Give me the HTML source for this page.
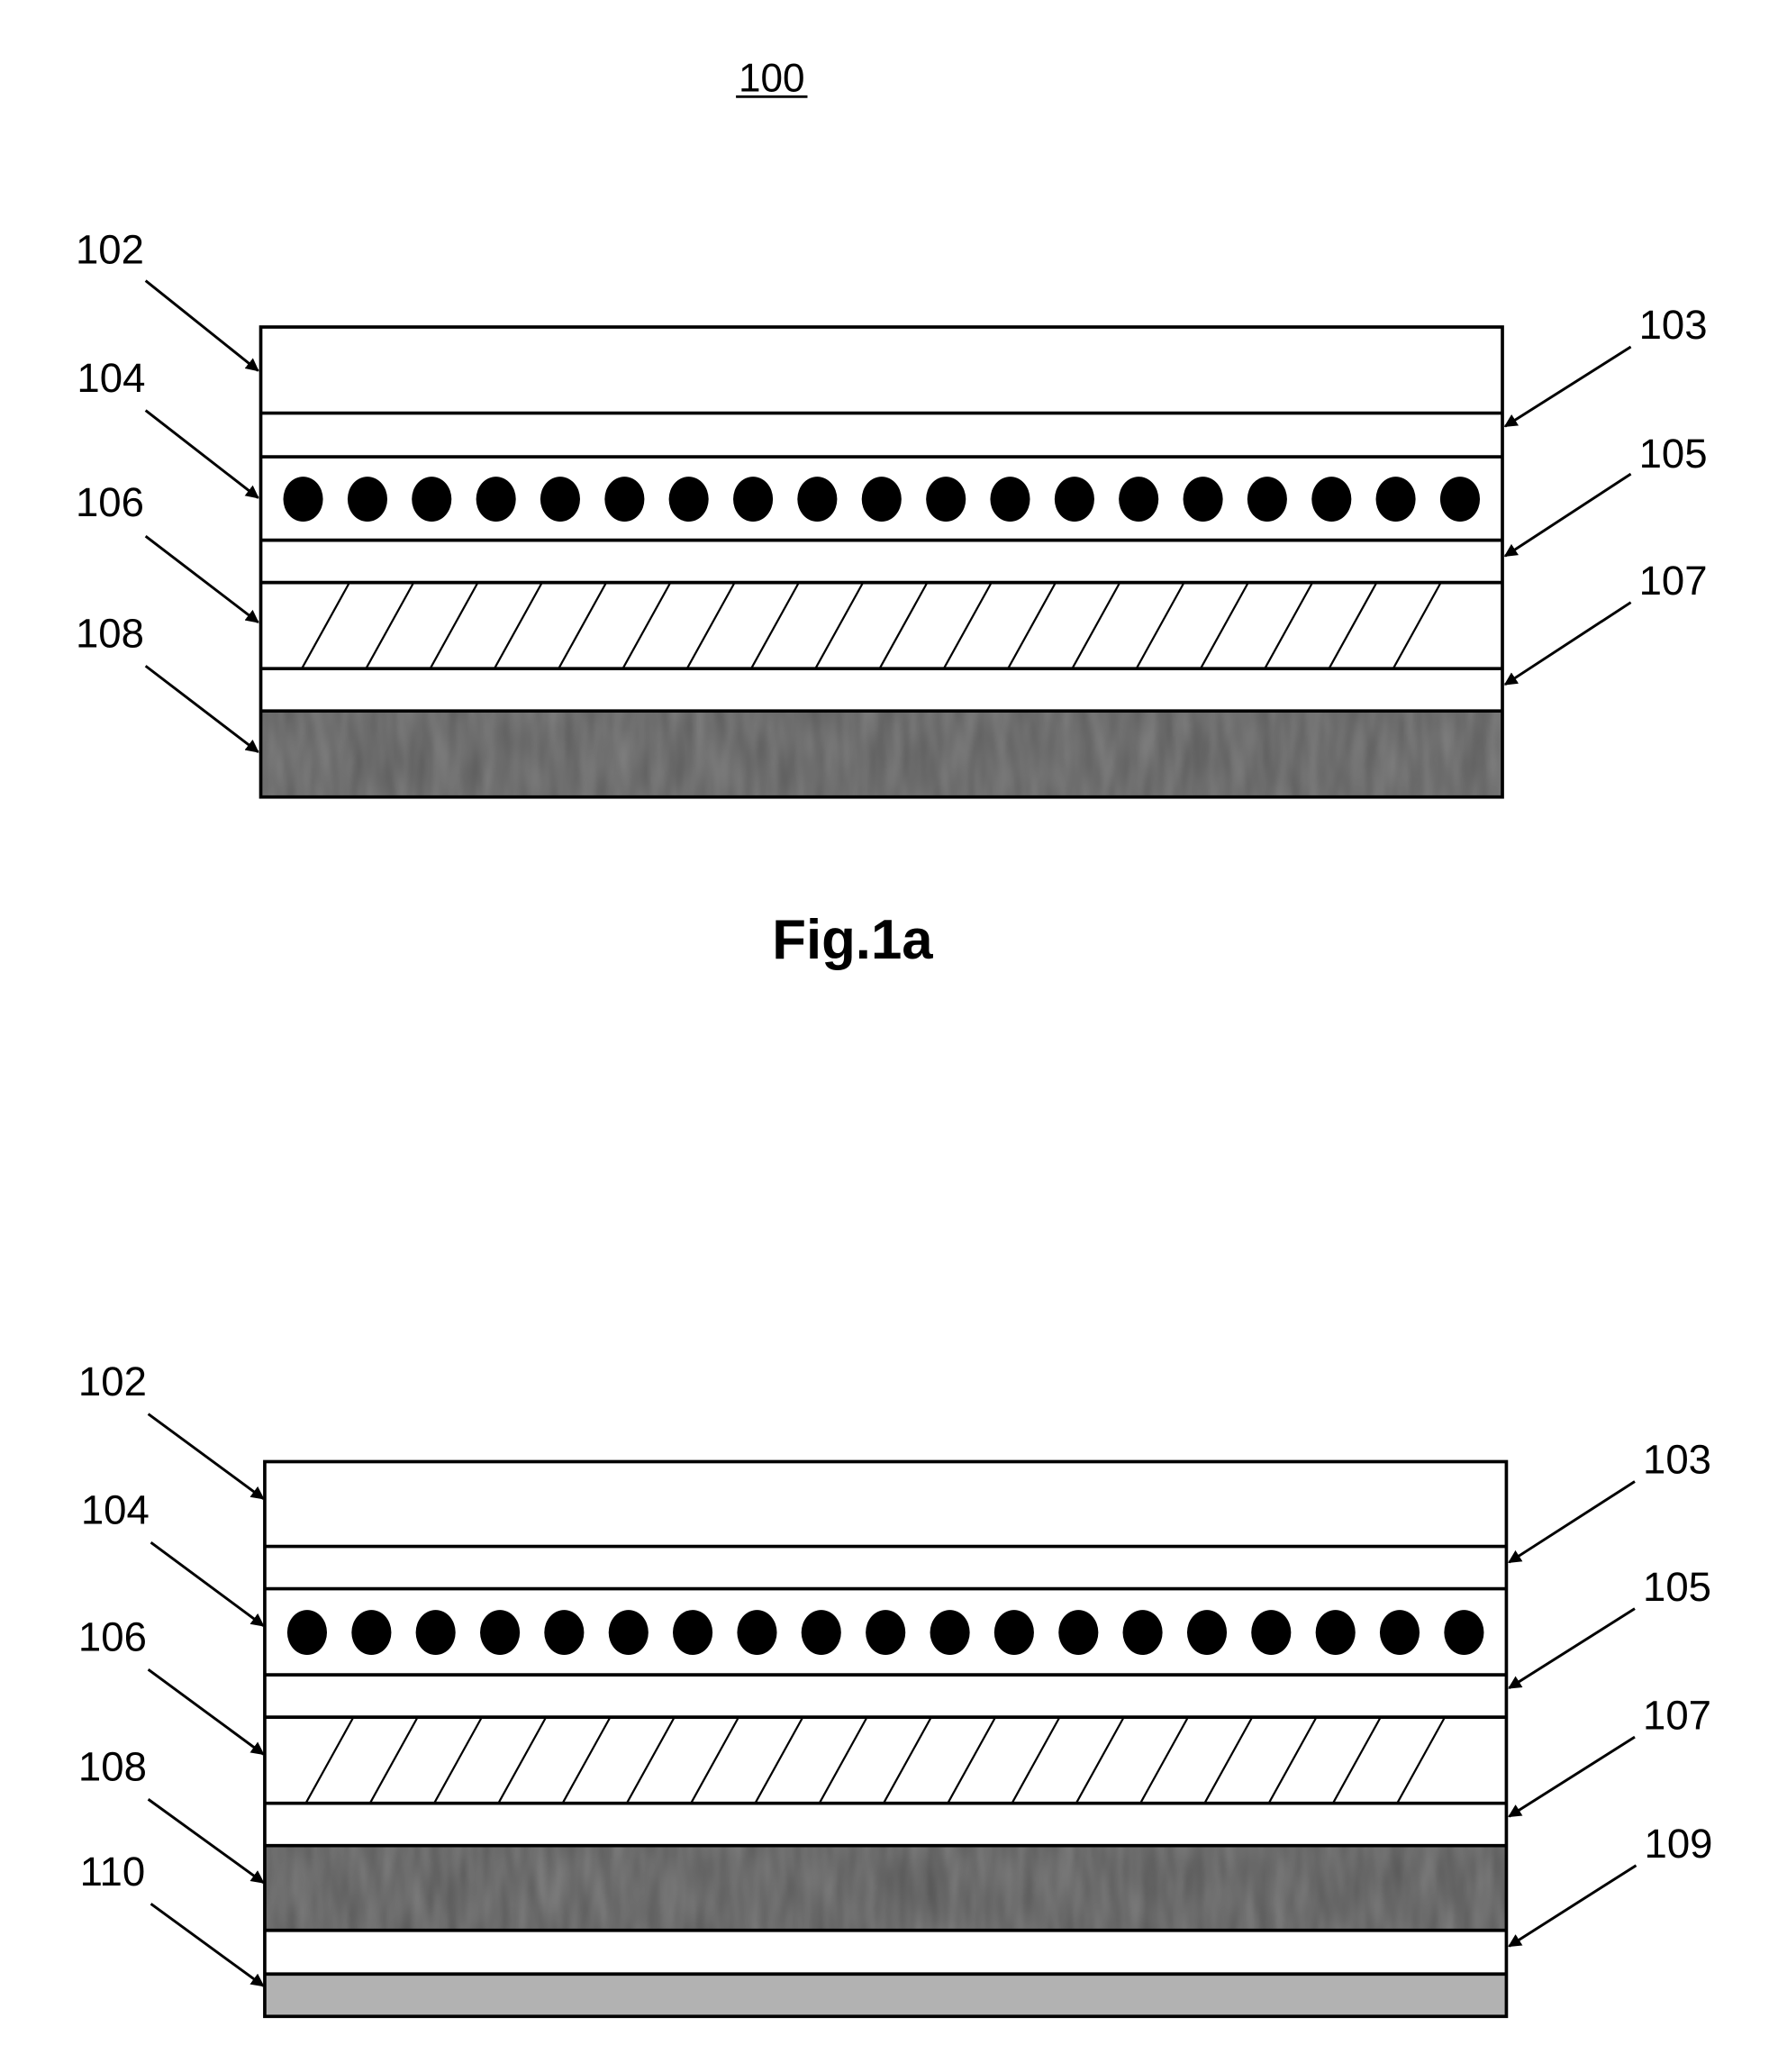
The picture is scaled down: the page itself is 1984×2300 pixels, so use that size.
<!DOCTYPE html>
<html><head><meta charset="utf-8"><style>html,body{margin:0;padding:0;background:#fff}svg{display:block}</style></head>
<body>
<svg width="1984" height="2300" viewBox="0 0 1350 1565" preserveAspectRatio="none" xmlns="http://www.w3.org/2000/svg">
<defs>
<marker id="a" viewBox="0 0 10 10" refX="9" refY="5" markerWidth="5" markerHeight="5" orient="auto"><path d="M0,0 L10,5 L0,10 z" fill="#000"/></marker>
<filter id="n1" x="0" y="0" width="100%" height="100%"><feTurbulence type="fractalNoise" baseFrequency="0.08 0.02" numOctaves="2" seed="3"/><feColorMatrix type="matrix" values="0 0 0 0 0.3  0 0 0 0 0.3  0 0 0 0 0.3  0 0 0 -1.2 1.1"/></filter>
</defs>
<g font-family="Liberation Sans, Arial, sans-serif" fill="#000">
<text x="583" y="69" font-size="30" text-anchor="middle">100</text>
<line x1="556" y1="73" x2="610" y2="73" stroke="#000" stroke-width="2"/>
<text x="644" y="724" font-size="42" font-weight="bold" text-anchor="middle">Fig.1a</text>
</g>

<!-- Fig 1a -->
<g stroke="#000" stroke-width="2.5" fill="none">
<rect x="197" y="537" width="938" height="65" fill="#5e5e5e" stroke="none"/>
<rect x="197" y="537" width="938" height="65" fill="#999" filter="url(#n1)" stroke="none" opacity="0.6"/>
<rect x="197" y="247" width="938" height="355"/>
<line x1="197" y1="312" x2="1135" y2="312"/>
<line x1="197" y1="345" x2="1135" y2="345"/>
<line x1="197" y1="408" x2="1135" y2="408"/>
<line x1="197" y1="440" x2="1135" y2="440"/>
<line x1="197" y1="505" x2="1135" y2="505"/>
<line x1="197" y1="537" x2="1135" y2="537"/>
</g>
<g id="dots1" fill="#000">
<ellipse cx="229" cy="377" rx="15" ry="17"/><ellipse cx="277.6" cy="377" rx="15" ry="17"/><ellipse cx="326.1" cy="377" rx="15" ry="17"/><ellipse cx="374.7" cy="377" rx="15" ry="17"/><ellipse cx="423.2" cy="377" rx="15" ry="17"/><ellipse cx="471.8" cy="377" rx="15" ry="17"/><ellipse cx="520.3" cy="377" rx="15" ry="17"/><ellipse cx="568.9" cy="377" rx="15" ry="17"/><ellipse cx="617.4" cy="377" rx="15" ry="17"/><ellipse cx="666" cy="377" rx="15" ry="17"/><ellipse cx="714.6" cy="377" rx="15" ry="17"/><ellipse cx="763.1" cy="377" rx="15" ry="17"/><ellipse cx="811.7" cy="377" rx="15" ry="17"/><ellipse cx="860.2" cy="377" rx="15" ry="17"/><ellipse cx="908.8" cy="377" rx="15" ry="17"/><ellipse cx="957.3" cy="377" rx="15" ry="17"/><ellipse cx="1005.9" cy="377" rx="15" ry="17"/><ellipse cx="1054.4" cy="377" rx="15" ry="17"/><ellipse cx="1103" cy="377" rx="15" ry="17"/>
</g>
<g id="hatch1" stroke="#000" stroke-width="1.5">
<line x1="228" y1="505" x2="264" y2="440"/><line x1="276.5" y1="505" x2="312.5" y2="440"/><line x1="325" y1="505" x2="361" y2="440"/><line x1="373.5" y1="505" x2="409.5" y2="440"/><line x1="422" y1="505" x2="458" y2="440"/><line x1="470.5" y1="505" x2="506.5" y2="440"/><line x1="519" y1="505" x2="555" y2="440"/><line x1="567.5" y1="505" x2="603.5" y2="440"/><line x1="616" y1="505" x2="652" y2="440"/><line x1="664.5" y1="505" x2="700.5" y2="440"/><line x1="713" y1="505" x2="749" y2="440"/><line x1="761.5" y1="505" x2="797.5" y2="440"/><line x1="810" y1="505" x2="846" y2="440"/><line x1="858.5" y1="505" x2="894.5" y2="440"/><line x1="907" y1="505" x2="943" y2="440"/><line x1="955.5" y1="505" x2="991.5" y2="440"/><line x1="1004" y1="505" x2="1040" y2="440"/><line x1="1052.5" y1="505" x2="1088.5" y2="440"/>
</g>
<g font-family="Liberation Sans, Arial, sans-serif" font-size="31" fill="#000" text-anchor="middle">
<text x="83" y="199">102</text><text x="84" y="296">104</text><text x="83" y="390">106</text><text x="83" y="489">108</text>
<text x="1264" y="256">103</text><text x="1264" y="353">105</text><text x="1264" y="449">107</text>
</g>
<g stroke="#000" stroke-width="2" marker-end="url(#a)">
<line x1="110" y1="212" x2="195" y2="280"/><line x1="110" y1="310" x2="195" y2="376"/><line x1="110" y1="405" x2="195" y2="470"/><line x1="110" y1="503" x2="195" y2="568"/>
<line x1="1232" y1="262" x2="1137" y2="322"/><line x1="1232" y1="358" x2="1137" y2="420"/><line x1="1232" y1="455" x2="1137" y2="517"/>
</g>

<!-- Fig 1b -->
<g stroke="#000" stroke-width="2.5" fill="none">
<rect x="200" y="1394" width="938" height="64" fill="#5a5a5a" stroke="none"/>
<rect x="200" y="1394" width="938" height="64" fill="#999" filter="url(#n1)" stroke="none" opacity="0.6"/>
<rect x="200" y="1491" width="938" height="32" fill="#b2b2b2" stroke="none"/>
<rect x="200" y="1104" width="938" height="419"/>
<line x1="200" y1="1168" x2="1138" y2="1168"/>
<line x1="200" y1="1200" x2="1138" y2="1200"/>
<line x1="200" y1="1265" x2="1138" y2="1265"/>
<line x1="200" y1="1297" x2="1138" y2="1297"/>
<line x1="200" y1="1362" x2="1138" y2="1362"/>
<line x1="200" y1="1394" x2="1138" y2="1394"/>
<line x1="200" y1="1458" x2="1138" y2="1458"/>
<line x1="200" y1="1491" x2="1138" y2="1491"/>
</g>
<use href="#dots1" transform="translate(3,856)"/>
<use href="#hatch1" transform="translate(3,857)"/>
<g font-family="Liberation Sans, Arial, sans-serif" font-size="31" fill="#000" text-anchor="middle">
<text x="85" y="1054">102</text><text x="87" y="1151">104</text><text x="85" y="1247">106</text><text x="85" y="1345">108</text><text x="85" y="1424">110</text>
<text x="1267" y="1113">103</text><text x="1267" y="1209">105</text><text x="1267" y="1306">107</text><text x="1268" y="1403">109</text>
</g>
<g stroke="#000" stroke-width="2" marker-end="url(#a)">
<line x1="112" y1="1068" x2="199" y2="1132"/><line x1="114" y1="1165" x2="199" y2="1228"/><line x1="112" y1="1261" x2="199" y2="1325"/><line x1="112" y1="1359" x2="199" y2="1422"/><line x1="114" y1="1438" x2="199" y2="1500"/>
<line x1="1235" y1="1119" x2="1140" y2="1180"/><line x1="1235" y1="1215" x2="1140" y2="1275"/><line x1="1235" y1="1312" x2="1140" y2="1372"/><line x1="1236" y1="1409" x2="1140" y2="1470"/>
</g>
</svg>
</body></html>
